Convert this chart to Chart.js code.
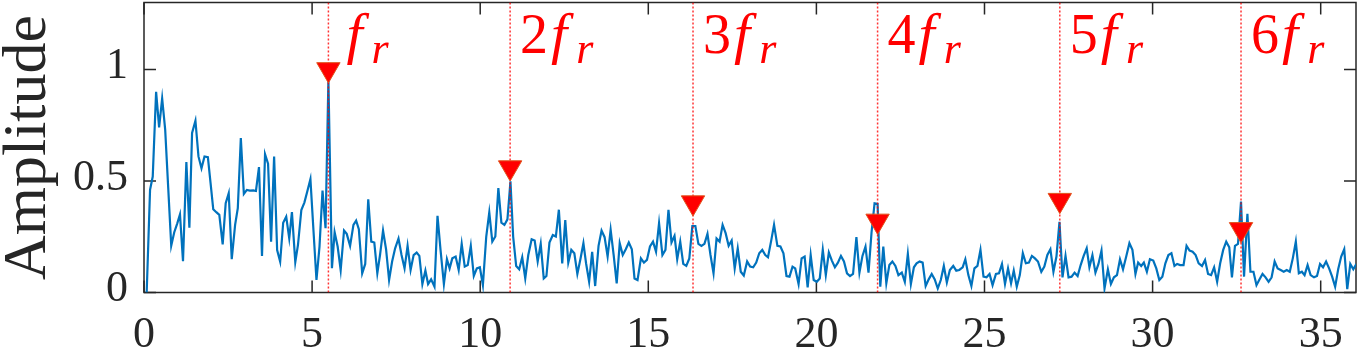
<!DOCTYPE html>
<html>
<head>
<meta charset="utf-8">
<script src="https://cdn.jsdelivr.net/npm/chart.js@4.4.1/dist/chart.umd.min.js"></script>
<style>
  html, body { margin: 0; padding: 0; background: #fff; }
</style>
</head>
<body>
<canvas id="spectrum" width="1360" height="349"></canvas>
<script>
// spectrum vertices (frequency / amplitude)
var freq = [
  0.08, 0.18, 0.26, 0.36, 0.45, 0.54, 0.63, 0.72, 0.81, 0.90, 0.99, 1.07, 1.16, 1.26, 1.35, 1.43, 1.53, 1.62, 1.71, 1.80,
  1.90, 1.98, 2.06, 2.15, 2.24, 2.34, 2.43, 2.52, 2.61, 2.71, 2.79, 2.88, 2.97, 3.06, 3.15, 3.25, 3.33, 3.42, 3.51, 3.60,
  3.69, 3.78, 3.87, 3.96, 4.05, 4.14, 4.23, 4.32, 4.40, 4.50, 4.58, 4.68, 4.77, 4.86, 4.95, 5.04, 5.13, 5.22, 5.31, 5.40,
  5.485, 5.59, 5.67, 5.76, 5.85, 5.95, 6.03, 6.13, 6.23, 6.31, 6.39, 6.49, 6.58, 6.67, 6.76, 6.85, 6.94, 7.02, 7.11, 7.20,
  7.29, 7.38, 7.47, 7.57, 7.66, 7.75, 7.84, 7.93, 8.02, 8.11, 8.19, 8.28, 8.37, 8.45, 8.54, 8.64, 8.73, 8.82, 8.92, 9.01,
  9.09, 9.17, 9.27, 9.36, 9.45, 9.54, 9.63, 9.72, 9.81, 9.90, 9.99, 10.08, 10.18, 10.27, 10.36, 10.45, 10.54, 10.63, 10.72, 10.81,
  10.90, 10.98, 11.07, 11.16, 11.25, 11.34, 11.43, 11.53, 11.62, 11.71, 11.80, 11.89, 11.97, 12.06, 12.16, 12.25, 12.34, 12.44, 12.53, 12.62,
  12.71, 12.80, 12.89, 12.98, 13.07, 13.15, 13.24, 13.33, 13.42, 13.52, 13.61, 13.70, 13.79, 13.88, 13.97, 14.06, 14.15, 14.24, 14.33, 14.42,
  14.51, 14.59, 14.68, 14.78, 14.87, 14.96, 15.05, 15.14, 15.23, 15.32, 15.42, 15.51, 15.60, 15.69, 15.78, 15.86, 15.95, 16.04, 16.13, 16.22,
  16.31, 16.40, 16.49, 16.58, 16.67, 16.76, 16.85, 16.94, 17.03, 17.12, 17.21, 17.30, 17.39, 17.48, 17.57, 17.66, 17.75, 17.84, 17.94, 18.03,
  18.12, 18.21, 18.30, 18.39, 18.48, 18.56, 18.66, 18.74, 18.84, 18.93, 19.02, 19.11, 19.20, 19.29, 19.37, 19.47, 19.56, 19.65, 19.74, 19.83,
  19.92, 20.01, 20.10, 20.19, 20.28, 20.37, 20.46, 20.55, 20.64, 20.73, 20.82, 20.91, 21.00, 21.09, 21.19, 21.28, 21.37, 21.46, 21.55, 21.64,
  21.73, 21.82, 21.90, 21.99, 22.08, 22.17, 22.26, 22.35, 22.44, 22.54, 22.63, 22.72, 22.81, 22.90, 22.98, 23.07, 23.16, 23.25, 23.34, 23.43,
  23.52, 23.61, 23.70, 23.79, 23.88, 23.97, 24.07, 24.16, 24.25, 24.35, 24.43, 24.52, 24.61, 24.70, 24.79, 24.88, 24.97, 25.06, 25.15, 25.24,
  25.34, 25.43, 25.52, 25.61, 25.70, 25.79, 25.87, 25.96, 26.05, 26.14, 26.23, 26.32, 26.41, 26.50, 26.59, 26.69, 26.78, 26.87, 26.96, 27.05,
  27.14, 27.23, 27.32, 27.41, 27.50, 27.59, 27.68, 27.77, 27.86, 27.95, 28.04, 28.12, 28.21, 28.30, 28.39, 28.48, 28.57, 28.67, 28.76, 28.85,
  28.94, 29.03, 29.12, 29.21, 29.31, 29.40, 29.49, 29.57, 29.66, 29.74, 29.83, 29.92, 30.02, 30.11, 30.20, 30.29, 30.38, 30.47, 30.56, 30.65,
  30.73, 30.82, 30.92, 31.01, 31.10, 31.19, 31.28, 31.37, 31.47, 31.56, 31.65, 31.74, 31.83, 31.92, 32.01, 32.10, 32.19, 32.28, 32.36, 32.45,
  32.54, 32.63, 32.72, 32.82, 32.91, 33.00, 33.09, 33.17, 33.27, 33.36, 33.45, 33.54, 33.63, 33.72, 33.81, 33.90, 33.99, 34.08, 34.17, 34.26,
  34.35, 34.44, 34.52, 34.61, 34.70, 34.80, 34.89, 34.98, 35.07, 35.16, 35.25, 35.34, 35.43, 35.52, 35.61, 35.70, 35.79, 35.88, 35.97, 36.06
];
var amp = [
  0.00, 0.46, 0.52, 0.90, 0.74, 0.87, 0.73, 0.47, 0.21, 0.27, 0.31, 0.35, 0.14, 0.585, 0.29, 0.715, 0.77, 0.61, 0.557, 0.61,
  0.607, 0.49, 0.373, 0.36, 0.348, 0.216, 0.40, 0.445, 0.149, 0.303, 0.378, 0.692, 0.442, 0.46, 0.457, 0.458, 0.455, 0.562, 0.164, 0.62,
  0.577, 0.228, 0.61, 0.19, 0.138, 0.313, 0.34, 0.243, 0.36, 0.136, 0.213, 0.37, 0.403, 0.455, 0.508, 0.28, 0.056, 0.206, 0.457, 0.288,
  0.954, 0.109, 0.27, 0.206, 0.10, 0.278, 0.263, 0.209, 0.303, 0.322, 0.284, 0.086, 0.128, 0.418, 0.228, 0.224, 0.086, 0.168, 0.278, 0.194,
  0.056, 0.139, 0.198, 0.242, 0.168, 0.108, 0.209, 0.101, 0.168, 0.179, 0.164, 0.038, 0.098, 0.038, 0.059, 0.026, 0.344, 0.191, 0.038, 0.149,
  0.108, 0.153, 0.161, 0.101, 0.218, 0.116, 0.123, 0.209, 0.074, 0.108, 0.113, 0.033, 0.251, 0.359, 0.228, 0.251, 0.468, 0.313, 0.303, 0.328,
  0.498, 0.251, 0.119, 0.104, 0.158, 0.063, 0.168, 0.239, 0.233, 0.139, 0.218, 0.063, 0.074, 0.224, 0.258, 0.251, 0.371, 0.13, 0.325, 0.134,
  0.191, 0.176, 0.083, 0.149, 0.221, 0.13, 0.048, 0.182, 0.029, 0.209, 0.278, 0.248, 0.161, 0.281, 0.168, 0.041, 0.221, 0.168, 0.194, 0.224,
  0.194, 0.063, 0.056, 0.153, 0.134, 0.146, 0.206, 0.228, 0.183, 0.311, 0.168, 0.191, 0.371, 0.224, 0.254, 0.149, 0.228, 0.128, 0.119, 0.153,
  0.298, 0.298, 0.218, 0.209, 0.218, 0.263, 0.168, 0.086, 0.242, 0.228, 0.303, 0.266, 0.209, 0.233, 0.108, 0.198, 0.093, 0.076, 0.139, 0.116,
  0.113, 0.134, 0.176, 0.191, 0.168, 0.158, 0.236, 0.303, 0.209, 0.206, 0.176, 0.074, 0.071, 0.116, 0.108, 0.038, 0.153, 0.161, 0.023, 0.168,
  0.056, 0.048, 0.063, 0.191, 0.078, 0.179, 0.143, 0.113, 0.134, 0.164, 0.139, 0.086, 0.074, 0.083, 0.248, 0.089, 0.164, 0.206, 0.089, 0.269,
  0.400, 0.397, 0.026, 0.206, 0.041, 0.123, 0.139, 0.119, 0.078, 0.089, 0.048, 0.173, 0.038, 0.113, 0.131, 0.139, 0.134, 0.029, 0.059, 0.083,
  0.059, 0.018, 0.056, 0.119, 0.045, 0.101, 0.119, 0.098, 0.101, 0.113, 0.149, 0.078, 0.029, 0.108, 0.119, 0.191, 0.071, 0.068, 0.083, 0.033,
  0.083, 0.086, 0.128, 0.038, 0.108, 0.041, 0.098, 0.026, 0.078, 0.176, 0.131, 0.134, 0.164, 0.153, 0.139, 0.093, 0.116, 0.168, 0.194, 0.093,
  0.161, 0.317, 0.068, 0.164, 0.068, 0.071, 0.089, 0.074, 0.123, 0.164, 0.198, 0.113, 0.168, 0.089, 0.128, 0.188, 0.018, 0.104, 0.038, 0.068,
  0.078, 0.149, 0.104, 0.158, 0.221, 0.191, 0.083, 0.134, 0.119, 0.134, 0.093, 0.149, 0.143, 0.108, 0.056, 0.071, 0.131, 0.168, 0.176, 0.119,
  0.128, 0.123, 0.123, 0.209, 0.188, 0.183, 0.168, 0.131, 0.119, 0.146, 0.083, 0.078, 0.113, 0.048, 0.131, 0.191, 0.228, 0.203, 0.068, 0.209,
  0.218, 0.408, 0.071, 0.353, 0.093, 0.093, 0.033, 0.056, 0.083, 0.068, 0.048, 0.068, 0.139, 0.108, 0.101, 0.093, 0.101, 0.093, 0.153, 0.228,
  0.086, 0.093, 0.078, 0.123, 0.078, 0.068, 0.074, 0.128, 0.113, 0.139, 0.108, 0.071, 0.026, 0.104, 0.161, 0.194, 0.015, 0.128, 0.104, 0.128
];

// harmonics of f_r: dotted line position, marker value, label prefix
var harmX = [5.485, 10.89, 16.33, 21.82, 27.24, 32.63];
var harmPeak = [1.0, 0.56, 0.403, 0.321, 0.414, 0.283];
var harmLabel = ['', '2', '3', '4', '5', '6'];
var labelY = 1.074;

var xTicks = [0, 5, 10, 15, 20, 25, 30, 35];
var yTicks = [0, 0.5, 1];
var xMax = 36.05;
var yMax = 1.3;

var axisColor = '#262626';
var serif = '"Liberation Serif", "Times New Roman", serif';

var lineData = freq.map(function (f, i) { return { x: f, y: amp[i] }; });
var markerData = harmX.map(function (f, i) { return { x: f, y: harmPeak[i] }; });

var datasets = [{
  data: lineData,
  showLine: true,
  borderColor: '#0072BD',
  borderWidth: 2.2,
  pointRadius: 0,
  order: 3
}];
harmX.forEach(function (f) {
  datasets.push({
    data: [{ x: f, y: 0 }, { x: f, y: yMax }],
    showLine: true,
    borderColor: 'rgba(255,0,0,0.8)',
    borderWidth: 1.5,
    borderDash: [2, 2],
    pointRadius: 0,
    order: 2
  });
});
datasets.push({
  data: markerData,
  pointStyle: 'triangle',
  rotation: 180,
  pointRadius: 13.5,
  backgroundColor: '#ff0000',
  borderColor: '#e0531c',
  borderWidth: 1,
  order: 1
});

// box with inward ticks on all four sides
var frame = {
  id: 'frame',
  beforeDatasetsDraw: function (chart) {
    var ctx = chart.ctx, a = chart.chartArea;
    var xs = chart.scales.x, ys = chart.scales.y;
    ctx.save();
    ctx.strokeStyle = axisColor;
    ctx.lineWidth = 1.5;
    ctx.strokeRect(a.left, a.top, a.right - a.left, a.bottom - a.top);
    ctx.beginPath();
    xTicks.forEach(function (v) {
      var px = xs.getPixelForValue(v);
      ctx.moveTo(px, a.bottom); ctx.lineTo(px, a.bottom - 12);
      ctx.moveTo(px, a.top); ctx.lineTo(px, a.top + 12);
    });
    yTicks.forEach(function (v) {
      var py = ys.getPixelForValue(v);
      ctx.moveTo(a.left, py); ctx.lineTo(a.left + 12, py);
      ctx.moveTo(a.right, py); ctx.lineTo(a.right - 12, py);
    });
    ctx.stroke();
    ctx.restore();
  }
};

// red "k f_r" labels and the y axis title
var texts = {
  id: 'texts',
  afterDatasetsDraw: function (chart) {
    var ctx = chart.ctx, a = chart.chartArea;
    var xs = chart.scales.x, ys = chart.scales.y;
    var base = ys.getPixelForValue(labelY);
    ctx.save();
    ctx.fillStyle = '#ff0000';
    ctx.textAlign = 'left';
    ctx.textBaseline = 'alphabetic';
    harmX.forEach(function (f, i) {
      var x = xs.getPixelForValue(f) + 10;
      if (harmLabel[i]) {
        ctx.font = '56px ' + serif;
        ctx.fillText(harmLabel[i], x, base);
        x += ctx.measureText(harmLabel[i]).width + 3;
      } else {
        x += 8;
      }
      ctx.font = 'italic 58px ' + serif;
      ctx.fillText('f', x, base);
      x += ctx.measureText('f').width + 9;
      ctx.font = 'italic 44px ' + serif;
      ctx.fillText('r', x, base + 10);
    });

    ctx.fillStyle = axisColor;
    ctx.font = '62px ' + serif;
    ctx.translate(45, (a.top + a.bottom) / 2);
    ctx.rotate(-Math.PI / 2);
    ctx.textAlign = 'center';
    ctx.fillText('Amplitude', 0, 0);
    ctx.restore();
  }
};

new Chart(document.getElementById('spectrum'), {
  type: 'scatter',
  data: { datasets: datasets },
  options: {
    responsive: false,
    animation: false,
    devicePixelRatio: 1,
    layout: { autoPadding: false, padding: { left: 0, right: 4, top: 2.5, bottom: 0 } },
    plugins: { legend: { display: false }, tooltip: { enabled: false } },
    scales: {
      x: {
        type: 'linear',
        min: 0,
        max: xMax,
        grid: { display: false, drawTicks: false },
        border: { display: false },
        ticks: {
          stepSize: 5,
          includeBounds: false,
          autoSkip: false,
          maxRotation: 0,
          padding: 17,
          color: axisColor,
          font: { family: serif, size: 44 }
        },
        afterFit: function (s) {
          s.height = 56.5;
          s.paddingLeft = 0;
          s.paddingRight = 0;
        }
      },
      y: {
        min: 0,
        max: yMax,
        grid: { display: false, drawTicks: false },
        border: { display: false },
        ticks: {
          stepSize: 0.5,
          includeBounds: false,
          padding: 16,
          labelOffset: -3,
          color: axisColor,
          font: { family: serif, size: 44 },
          callback: function (v) { return String(v); }
        },
        afterFit: function (s) {
          s.width = 144;
          s.paddingTop = 0;
          s.paddingBottom = 0;
        }
      }
    }
  },
  plugins: [frame, texts]
});
</script>
</body>
</html>
